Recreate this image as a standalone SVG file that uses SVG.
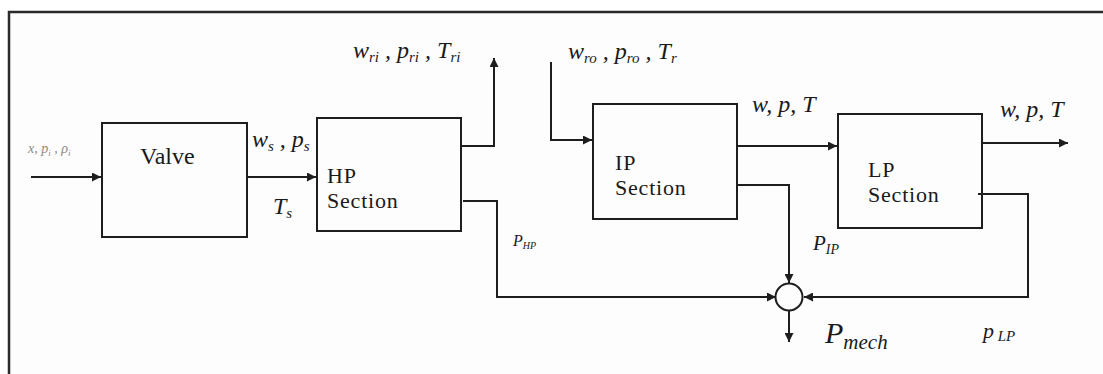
<svg xmlns="http://www.w3.org/2000/svg" width="1103" height="374" viewBox="0 0 1103 374">
  <defs>
    <marker id="arrow" viewBox="0 0 10 10" refX="10" refY="5" markerWidth="10" markerHeight="9" markerUnits="userSpaceOnUse" orient="auto">
      <path d="M0,0 L10,5 L0,10 Z" fill="#1e1e1e"/>
    </marker>
  </defs>
  <style>
    .frame { fill: #fdfdfd; stroke: #2a2a2a; stroke-width: 2.5; }
    .box { fill: none; stroke: #1e1e1e; stroke-width: 2; }
    .wire { fill: none; stroke: #1e1e1e; stroke-width: 2; }
    .label { font-family: "Liberation Serif", "Times New Roman", serif; font-size: 24px; fill: #1a1a1a; }
    .name { font-family: "Liberation Serif", "Times New Roman", serif; font-size: 22px; fill: #1a1a1a; letter-spacing: 0.8px; }
    .math { font-family: "Liberation Serif", "Times New Roman", serif; font-style: italic; font-size: 24px; fill: #1a1a1a; }
    .sub { font-size: 15px; }
  </style>

  <!-- outer frame -->
  <rect class="frame" x="9" y="12" width="1110" height="380"/>

  <!-- connectors -->
  <g id="connectors">
    <path class="wire" d="M31,177 H101" marker-end="url(#arrow)"/>
    <path class="wire" d="M247,177 H316" marker-end="url(#arrow)"/>
    <path class="wire" d="M461,146 H494 V58" marker-end="url(#arrow)"/>
    <path class="wire" d="M463,201 H497 V297 H776" marker-end="url(#arrow)"/>
    <path class="wire" d="M551,62 V140 H592" marker-end="url(#arrow)"/>
    <path class="wire" d="M737,146 H837" marker-end="url(#arrow)"/>
    <path class="wire" d="M737,185 H789 V283" marker-end="url(#arrow)"/>
    <path class="wire" d="M982,143 H1068" marker-end="url(#arrow)"/>
    <path class="wire" d="M978,194 H1028 V297 H804" marker-end="url(#arrow)"/>
    <path class="wire" d="M789,311 V342" marker-end="url(#arrow)"/>
  </g>

  <!-- valve -->
  <g id="valve">
    <rect class="box" x="102" y="123" width="145" height="114"/>
    <text class="label" x="140" y="164">Valve</text>
  </g>

  <!-- high pressure section -->
  <g id="hp-section">
    <rect class="box" x="317" y="118" width="144" height="113"/>
    <text class="name"><tspan x="327" y="183">HP</tspan><tspan x="327" y="208">Section</tspan></text>
  </g>

  <!-- intermediate pressure section -->
  <g id="ip-section">
    <rect class="box" x="593" y="104" width="144" height="115"/>
    <text class="name"><tspan x="615" y="170">IP</tspan><tspan x="615" y="195">Section</tspan></text>
  </g>

  <!-- low pressure section -->
  <g id="lp-section">
    <rect class="box" x="838" y="114" width="144" height="114"/>
    <text class="name"><tspan x="868" y="177">LP</tspan><tspan x="868" y="202">Section</tspan></text>
  </g>

  <!-- power summing junction -->
  <g id="summer">
    <circle class="box" cx="789" cy="297" r="13.5" fill="#fdfdfd"/>
  </g>

  <!-- signal labels -->
  <g id="labels">
    <text class="math" x="28" y="153" style="font-size:14px;fill:#8a8a8a">x, p<tspan dy="3" style="font-size:9px">i</tspan><tspan dy="-3"> , ρ</tspan><tspan dy="3" style="font-size:9px">i</tspan></text>
    <text class="math" x="252" y="147">w<tspan class="sub" dy="4">s</tspan><tspan dy="-4"> , p</tspan><tspan class="sub" dy="4">s</tspan></text>
    <text class="math" x="273" y="214">T<tspan class="sub" dy="4">s</tspan></text>
    <text class="math" x="353" y="58">w<tspan class="sub" dy="4">ri</tspan><tspan dy="-4"> , p</tspan><tspan class="sub" dy="4">ri</tspan><tspan dy="-4"> , T</tspan><tspan class="sub" dy="4">ri</tspan></text>
    <text class="math" x="513" y="246" style="font-size:16px">P<tspan dy="3" style="font-size:10px">HP</tspan></text>
    <text class="math" x="568" y="59">w<tspan class="sub" dy="4">ro</tspan><tspan dy="-4"> , p</tspan><tspan class="sub" dy="4">ro</tspan><tspan dy="-4"> , T</tspan><tspan class="sub" dy="4">r</tspan></text>
    <text class="math" x="752" y="112">w, p, T</text>
    <text class="math" x="1000" y="117">w, p, T</text>
    <text class="math" x="813" y="250" style="font-size:21px">P<tspan dy="4" style="font-size:14px">IP</tspan></text>
    <text class="math" x="825" y="343" style="font-size:30px">P<tspan dy="6" style="font-size:21px">mech</tspan></text>
    <text class="math" x="983" y="338" style="font-size:22px">p<tspan dy="3" style="font-size:15px"> LP</tspan></text>
  </g>
</svg>
